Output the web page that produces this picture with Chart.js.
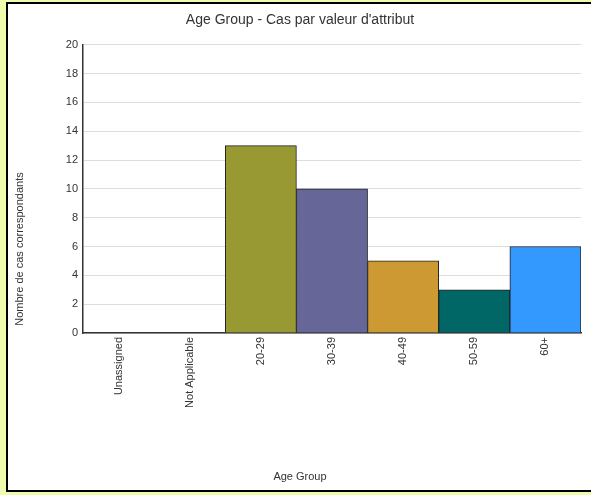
<!DOCTYPE html>
<html>
<head>
<meta charset="utf-8">
<title>Age Group - Cas par valeur d'attribut</title>
<script src="https://cdn.jsdelivr.net/npm/chart.js@4/dist/chart.umd.min.js"></script>
<style>
    html, body {
        margin: 0;
        padding: 0;
        width: 591px;
        height: 495px;
        overflow: hidden;
        background: #effcae;
    }

    #panel {
        position: absolute;
        left: 6px;
        top: 2px;
        width: 600px;
        height: 486px;
        background: #ffffff;
        border: 2px solid #000000;
    }

    #chartBox {
        position: absolute;
        left: 0;
        top: 0;
        width: 591px;
        height: 495px;
    }
</style>
</head>
<body>

<div id="panel"></div>

<div id="chartBox">
    <canvas id="ageChart"></canvas>
</div>

<script>

// data
const categories = ["Unassigned", "Not Applicable", "20-29", "30-39", "40-49", "50-59", "60+"];
const caseCounts = [0, 0, 13, 10, 5, 3, 6];
const barColors = ["#999933", "#999933", "#999933", "#666699", "#cc9933", "#006666", "#3399ff"];

const chartTitle = "Age Group - Cas par valeur d'attribut";
const xTitle = "Age Group";
const yTitle = "Nombre de cas correspondants";

const yMin = 0;
const yMax = 20;
const yStep = 2;

const fontFamily = "'Liberation Sans', Arial, sans-serif";
const textColor = "#333333";

// y title sits centred on the whole panel, not on the plot
const yTitlePlugin = {
    id: "yTitlePlugin",
    afterDraw(chart) {
        const ctx = chart.ctx;
        ctx.save();
        ctx.translate(20, 249);
        ctx.rotate(-Math.PI / 2);
        ctx.font = "11px " + fontFamily;
        ctx.fillStyle = textColor;
        ctx.textAlign = "center";
        ctx.textBaseline = "middle";
        ctx.fillText(yTitle, 0, 0);
        ctx.restore();
    }
};

window.addEventListener("load", () => {

    const canvas = document.getElementById("ageChart");

    new Chart(canvas, {
        type: "bar",

        data: {
            labels: categories,

            datasets: [{
                data: caseCounts,
                backgroundColor: barColors,
                borderColor: "#222222",
                borderWidth: 1,
                barPercentage: 1,
                categoryPercentage: 1
            }]
        },

        options: {

            responsive: true,
            maintainAspectRatio: false,
            animation: false,

            // left padding keeps the titles centred on the panel
            layout: {
                padding: { top: 4, right: 10, bottom: 11.4, left: 19 }
            },

            plugins: {

                legend: { display: false },

                tooltip: { enabled: false },

                title: {
                    display: true,
                    text: chartTitle,
                    color: textColor,
                    font: { family: fontFamily, size: 14, weight: "normal" },
                    padding: { top: 8, bottom: 16 }
                },

                subtitle: {
                    display: true,
                    position: "bottom",
                    text: xTitle,
                    color: textColor,
                    font: { family: fontFamily, size: 11, weight: "normal" },
                    padding: { top: 0, bottom: 0 }
                }
            },

            scales: {

                x: {
                    grid: { display: false, drawTicks: false },
                    border: { display: true, color: "#333333", width: 1.5 },
                    ticks: {
                        color: textColor,
                        font: { family: fontFamily, size: 11 },
                        minRotation: 90,
                        maxRotation: 90,
                        padding: 4,
                        autoSkip: false
                    },
                    afterFit(scale) {
                        scale.height = 137.4;
                    }
                },

                y: {
                    min: yMin,
                    max: yMax,
                    grid: { color: "#dddddd", lineWidth: 1, drawTicks: false },
                    border: { display: true, color: "#333333", width: 1.5 },
                    ticks: {
                        stepSize: yStep,
                        color: textColor,
                        font: { family: fontFamily, size: 11 },
                        padding: 5
                    },
                    afterFit(scale) {
                        scale.width = 64;
                    }
                }
            }
        },

        plugins: [yTitlePlugin]
    });

});

</script>
</body>
</html>
